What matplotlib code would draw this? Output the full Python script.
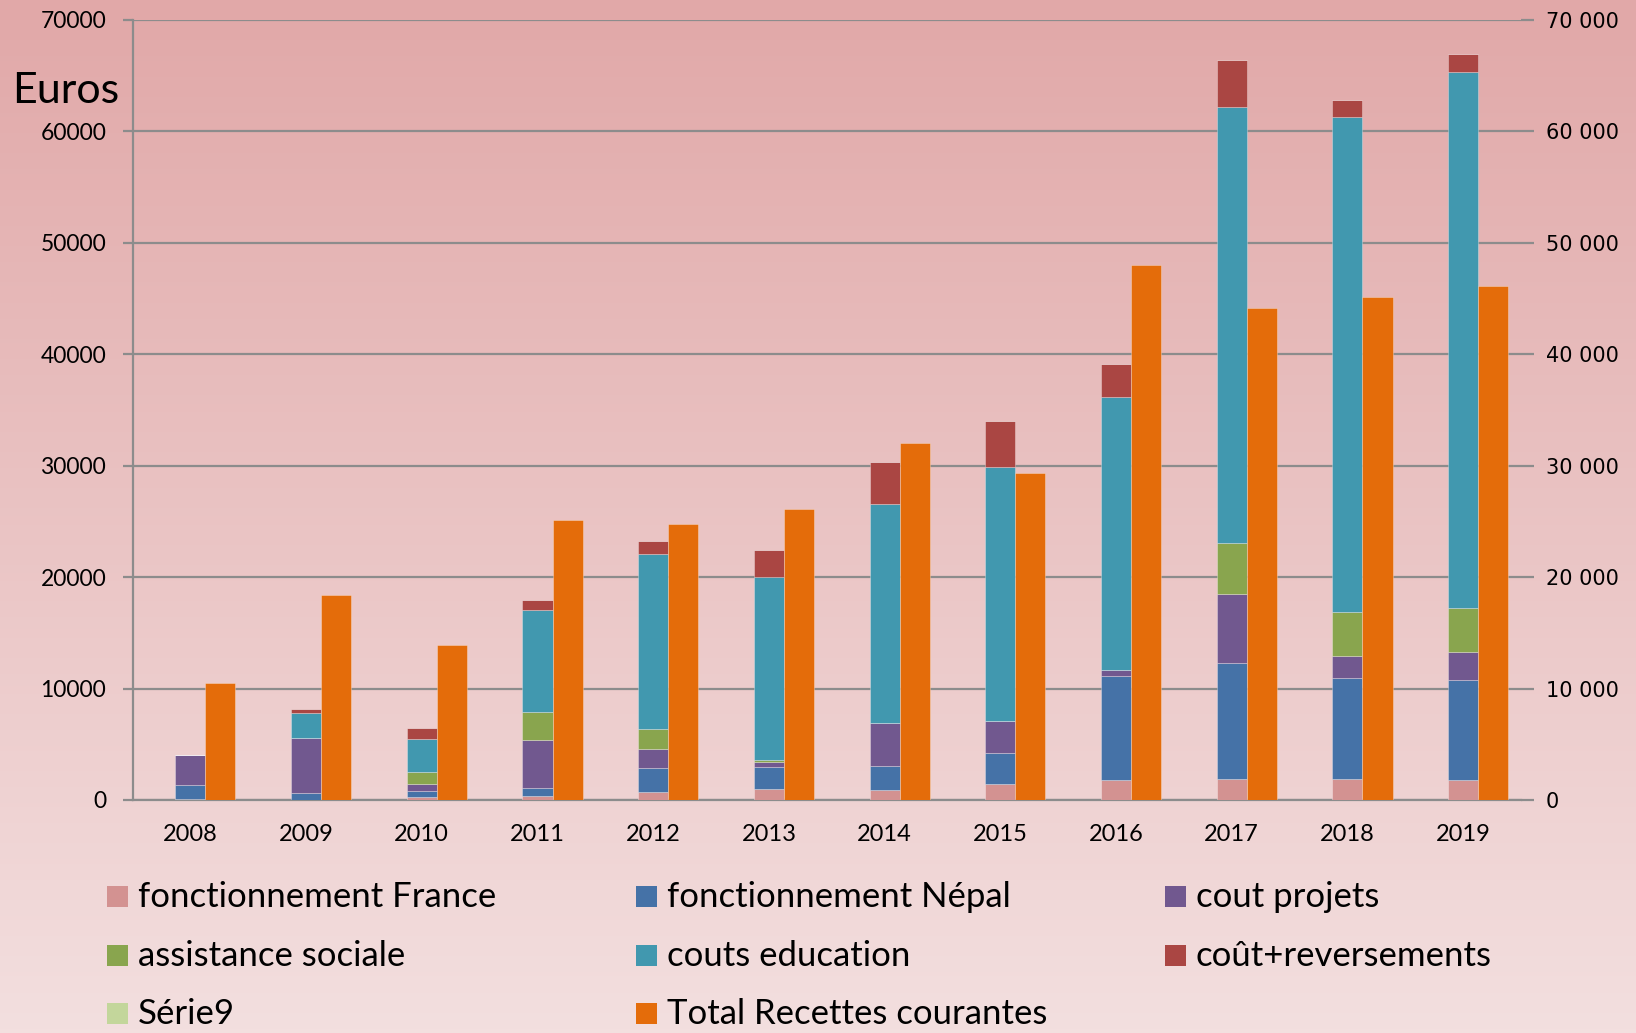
import numpy as np
import matplotlib
matplotlib.use('Agg')
import matplotlib.pyplot as plt
from matplotlib.patches import Rectangle
from matplotlib.colors import to_rgb

#************************DATA************************
years = ['2008', '2009', '2010', '2011', '2012', '2013', '2014', '2015', '2016', '2017', '2018', '2019']
fonctFrance = [100, 0, 300, 350, 700, 1000, 850, 1400, 1750, 1900, 1900, 1750]
fonctNepal = [1250, 600, 500, 750, 2200, 1950, 2200, 2800, 9400, 10400, 9000, 9000]
coutProjets = [2700, 5000, 650, 4300, 1700, 500, 3900, 2900, 550, 6200, 2000, 2500]
assistanceSociale = [0, 0, 1050, 2500, 1750, 150, 0, 0, 0, 4600, 4000, 4000]
coutsEducation = [0, 2200, 3000, 9100, 15700, 16400, 19600, 22800, 24500, 39100, 44400, 48100]
coutReversements = [0, 400, 1000, 950, 1200, 2400, 3800, 4100, 2900, 4200, 1500, 1600]
serie9 = [0, 0, 0, 0, 0, 0, 0, 0, 0, 0, 0, 0]
totalRecettes = [10500, 18400, 13900, 25100, 24800, 26100, 32000, 29300, 48000, 44100, 45100, 46100]

stackNames = ['fonctionnement France', 'fonctionnement Népal', 'cout projets',
	'assistance sociale', 'couts education', 'coût+reversements', 'Série9']
stackValues = [fonctFrance, fonctNepal, coutProjets, assistanceSociale, coutsEducation, coutReversements, serie9]
totalName = 'Total Recettes courantes'

#************************STYLE************************
stackColors = ['#D39291', '#4572A7', '#71588F', '#89A54E', '#4198AF', '#AA4643', '#C3D69B']
orangeColor = '#E46C0A'
gridColor = '#8C8C8C'
bgTop = '#E1A8A8'
bgBottom = '#F3DFDF'
barWidth = 0.26
mainFont = 'Lato'

#************************FIGURE************************
fig = plt.figure(figsize=(16.36, 10.33), dpi=100)

# gradient background
bgAx = fig.add_axes([0, 0, 1, 1], zorder=-10)
topRgb = np.array(to_rgb(bgTop))
botRgb = np.array(to_rgb(bgBottom))
t = np.linspace(0, 1, 256)[:, None]
grad = (topRgb[None, :] * (1 - t) + botRgb[None, :] * t)[:, None, :]
bgAx.imshow(grad, aspect='auto', extent=[0, 1, 0, 1])
bgAx.axis('off')

ax = fig.add_axes([0.081, 0.2256, 0.8487, 0.7552])
ax.set_facecolor('none')
ax2 = ax.twinx()
ax2.set_facecolor('none')

x = np.arange(len(years))
bottom = np.zeros(len(years))
for name, vals, col in zip(stackNames, stackValues, stackColors):
	ax.bar(x, vals, barWidth, bottom=bottom, color=col, edgecolor=(1, 1, 1, 0.3), linewidth=0.7, label=name, zorder=3)
	bottom += np.array(vals)

ax2.bar(x + barWidth, totalRecettes, barWidth, color=orangeColor, edgecolor=(1, 1, 1, 0.3), linewidth=0.7, label=totalName, zorder=3)

for a in (ax, ax2):
	a.set_ylim(0, 70000)
	a.set_xlim(-0.5, len(years) - 0.5)
	for s in a.spines.values():
		s.set_visible(False)

ax.set_yticks(np.arange(0, 70001, 10000))
ax.yaxis.grid(True, color=gridColor, linewidth=1.6)
ax.set_axisbelow(True)
ax.spines['left'].set_visible(True)
ax.spines['left'].set_color(gridColor)
ax.spines['left'].set_linewidth(1.6)
ax.spines['bottom'].set_visible(True)
ax.spines['bottom'].set_color(gridColor)
ax.spines['bottom'].set_linewidth(1.6)
ax.tick_params(axis='y', length=7, width=1.6, color=gridColor, pad=12, labelsize=16.5)
ax.tick_params(axis='x', length=0, pad=17, labelsize=17)
ax.set_xticks(x)
ax.set_xticklabels(years, fontfamily=mainFont)
for lbl in ax.get_yticklabels():
	lbl.set_fontfamily(mainFont)

ax2.set_yticks(np.arange(0, 70001, 10000))
ax2.yaxis.set_major_formatter(matplotlib.ticker.FuncFormatter(lambda v, p: '{:,}'.format(int(v)).replace(',', ' ')))
ax2.tick_params(axis='y', length=9, width=1.6, color=gridColor, pad=9, labelsize=15)

fig.text(0.040, 0.912, 'Euros', fontsize=31, fontfamily=mainFont, ha='center', va='center')

#************************LEGEND************************
legendItems = list(zip(stackNames, stackColors)) + [(totalName, orangeColor)]
colX = [0.0657, 0.389, 0.7124]
rowY = [0.1317, 0.0746, 0.0184]
sqW = 21 / 1636
sqH = 21 / 1033
for k, (name, col) in enumerate(legendItems):
	cx = colX[k % 3]
	cy = rowY[k // 3]
	fig.add_artist(Rectangle((cx, cy - sqH / 2), sqW, sqH, transform=fig.transFigure, facecolor=col, edgecolor='none'))
	fig.text(cx + 0.0185, cy, name, fontsize=25, fontfamily=mainFont, ha='left', va='center')

fig.savefig('out.png', dpi=100)
